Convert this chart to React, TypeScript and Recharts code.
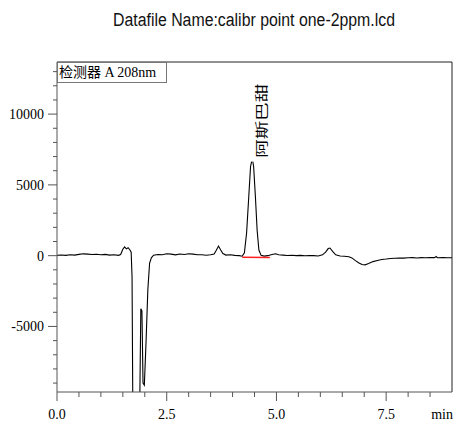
import { LineChart, Line, XAxis, YAxis, ReferenceLine, LabelList } from "recharts"

// retention time (min) and detector signal
const times = [
  0.0, 0.1, 0.2, 0.3, 0.4, 0.5, 0.6, 0.7, 0.8, 0.9, 1.0, 1.1, 1.2, 1.3, 1.4, 1.45, 1.5, 1.54, 1.58, 1.62,
  1.66, 1.69, 1.71, 1.73, 1.88, 1.91, 1.935, 1.96, 1.99, 2.03, 2.07, 2.11, 2.15, 2.2, 2.3, 2.4, 2.5,
  2.6, 2.7, 2.8, 2.9, 3.0, 3.1, 3.2, 3.3, 3.4, 3.5, 3.58, 3.63, 3.68, 3.73, 3.78, 3.85, 3.95, 4.05, 4.15,
  4.22, 4.27, 4.32, 4.37, 4.41, 4.45, 4.48, 4.52, 4.56, 4.6, 4.65, 4.72, 4.8, 4.9, 4.98, 5.05, 5.15, 5.25,
  5.35, 5.45, 5.55, 5.65, 5.75, 5.85, 5.95, 6.05, 6.12, 6.18, 6.22, 6.28, 6.35, 6.45, 6.55, 6.65, 6.72,
  6.8, 6.88, 6.95, 7.02, 7.1, 7.2, 7.3, 7.4, 7.5, 7.6, 7.7, 7.8, 7.9, 8.0, 8.1, 8.2, 8.3, 8.4, 8.5, 8.6,
  8.64, 8.67, 8.8, 8.9, 9.0,
]
const signal = [
  30, 50, 20, 60, 40, 90, 130, 110, 80, 100, 70, 90, 40, 60, 20, 80, 450, 620, 480, 560,
  420, 250, -1500, -12000, -12000, -3750, -3900, -9000, -9150, -6000, -2400, -520, -150, 30, 80, 60, 140,
  110, 60, 120, 80, 140, 110, 70, 60, 30, 60, 120, 380, 680, 400, 150, 40, 60, 20, 0,
  -40, 200, 1600, 4200, 6300, 6850, 6300, 4200, 1800, 400, 20, -30, 0, 80, 130, 60, 40, 10,
  30, 0, 20, -10, 10, 0, -20, 60, 250, 500, 540, 300, 60, -20, -40, -80, -160,
  -350, -520, -620, -650, -560, -420, -340, -270, -240, -200, -180, -160, -170, -150, -140, -160, -140, -150, -130, -140,
  -60, -150, -140, -150, -150,
]

// integration baseline under the peak
const baseTimes = [4.22, 4.85]
const baseValues = [-110, -130]

const peakTimes = [4.45]
const peakValues = [6850]
const peakNames = ["阿斯巴甜"]

const xTicks = [0, 0.5, 1, 1.5, 2, 2.5, 3, 3.5, 4, 4.5, 5, 5.5, 6, 6.5, 7, 7.5, 8, 8.5, 9]
const yTicks = [
  -9000, -8000, -7000, -6000, -5000, -4000, -3000, -2000, -1000, 0, 1000, 2000, 3000, 4000, 5000, 6000,
  7000, 8000, 9000, 10000, 11000, 12000, 13000,
]

const trace = times.map((t, i) => ({ t, v: signal[i] }))
const baseline = baseTimes.map((t, i) => ({ t, v: baseValues[i] }))
const peaks = peakTimes.map((t, i) => ({ t, v: peakValues[i], name: peakNames[i] }))

const serif = "'Liberation Serif', 'Times New Roman', serif"
const axisColor = "#555"
const tickText = { fontFamily: serif, fontSize: 14, fill: "#000" }

function XTick(props: any) {
  const { x, y, payload } = props
  const v = payload.value
  if (v === 9) {
    return (
      <text x={x + 1} y={y + 27} textAnchor="end" style={tickText}>
        min
      </text>
    )
  }
  const major = v % 2.5 === 0
  return (
    <g>
      <line x1={x} y1={y} x2={x} y2={y + (major ? 9 : 5)} stroke={axisColor} />
      {major && (
        <text x={x} y={y + 27} textAnchor="middle" style={tickText}>
          {v.toFixed(1)}
        </text>
      )}
    </g>
  )
}

function YTick(props: any) {
  const { x, y, payload } = props
  const v = payload.value
  const major = v % 5000 === 0
  return (
    <g>
      <line x1={x - (major ? 9 : 4)} y1={y} x2={x} y2={y} stroke={axisColor} />
      {major && (
        <text x={x - 13} y={y + 5} textAnchor="end" style={tickText}>
          {v}
        </text>
      )}
    </g>
  )
}

function PeakLabel(props: any) {
  const { x, y, value } = props
  const px = x + 13.5
  const py = y - 1
  return (
    <text
      x={px}
      y={py}
      transform={`rotate(-90 ${px} ${py})`}
      style={{ fontFamily: "'Noto Sans CJK SC', sans-serif", fontSize: 13, fill: "#000" }}
      textLength={74}
      lengthAdjust="spacingAndGlyphs"
    >
      {value}
    </text>
  )
}

export default function App() {
  return (
    <div style={{ position: "absolute", left: 0, top: 0, width: 455, height: 422, background: "#fff" }}>
      <svg width={455} height={40} style={{ position: "absolute", left: 0, top: 0 }}>
        <text
          x={113}
          y={26}
          textLength={282}
          lengthAdjust="spacingAndGlyphs"
          style={{ fontFamily: "'Liberation Sans', Arial, sans-serif", fontSize: 18, fill: "#111" }}
        >
          Datafile Name:calibr point one-2ppm.lcd
        </text>
      </svg>
      <div
        style={{
          position: "absolute",
          left: 57,
          top: 62,
          width: 110,
          height: 21,
          border: "1px solid #777",
          boxSizing: "border-box",
          fontFamily: "'Liberation Serif', 'Noto Sans CJK SC', serif",
          fontSize: 14,
          lineHeight: "19px",
          paddingLeft: 1,
          whiteSpace: "nowrap",
          background: "#fff",
          zIndex: 2,
        }}
      >
        检测器 A 208nm
      </div>
      <LineChart width={455} height={422} margin={{ top: 62, right: 3, bottom: 0, left: 7 }}>
        <XAxis
          type="number"
          dataKey="t"
          domain={[0, 9]}
          ticks={xTicks}
          interval={0}
          allowDataOverflow
          stroke={axisColor}
          tickLine={false}
          tickSize={0}
          tickMargin={0}
          tick={<XTick />}
          height={30}
        />
        <YAxis
          type="number"
          dataKey="v"
          domain={[-9630, 13680]}
          ticks={yTicks}
          interval={0}
          allowDataOverflow
          stroke={axisColor}
          tickLine={false}
          tickSize={0}
          tickMargin={0}
          tick={<YTick />}
          width={50}
        />
        <ReferenceLine y={13680} stroke="#222" />
        <ReferenceLine x={9} stroke="#222" />
        <Line data={trace} dataKey="v" stroke="#000" strokeWidth={1.1} dot={false} isAnimationActive={false} />
        <Line data={baseline} dataKey="v" stroke="#ff2020" strokeWidth={1.5} dot={false} isAnimationActive={false} />
        <Line data={peaks} dataKey="v" stroke="none" dot={false} isAnimationActive={false}>
          <LabelList dataKey="name" content={<PeakLabel />} />
        </Line>
      </LineChart>
    </div>
  )
}
